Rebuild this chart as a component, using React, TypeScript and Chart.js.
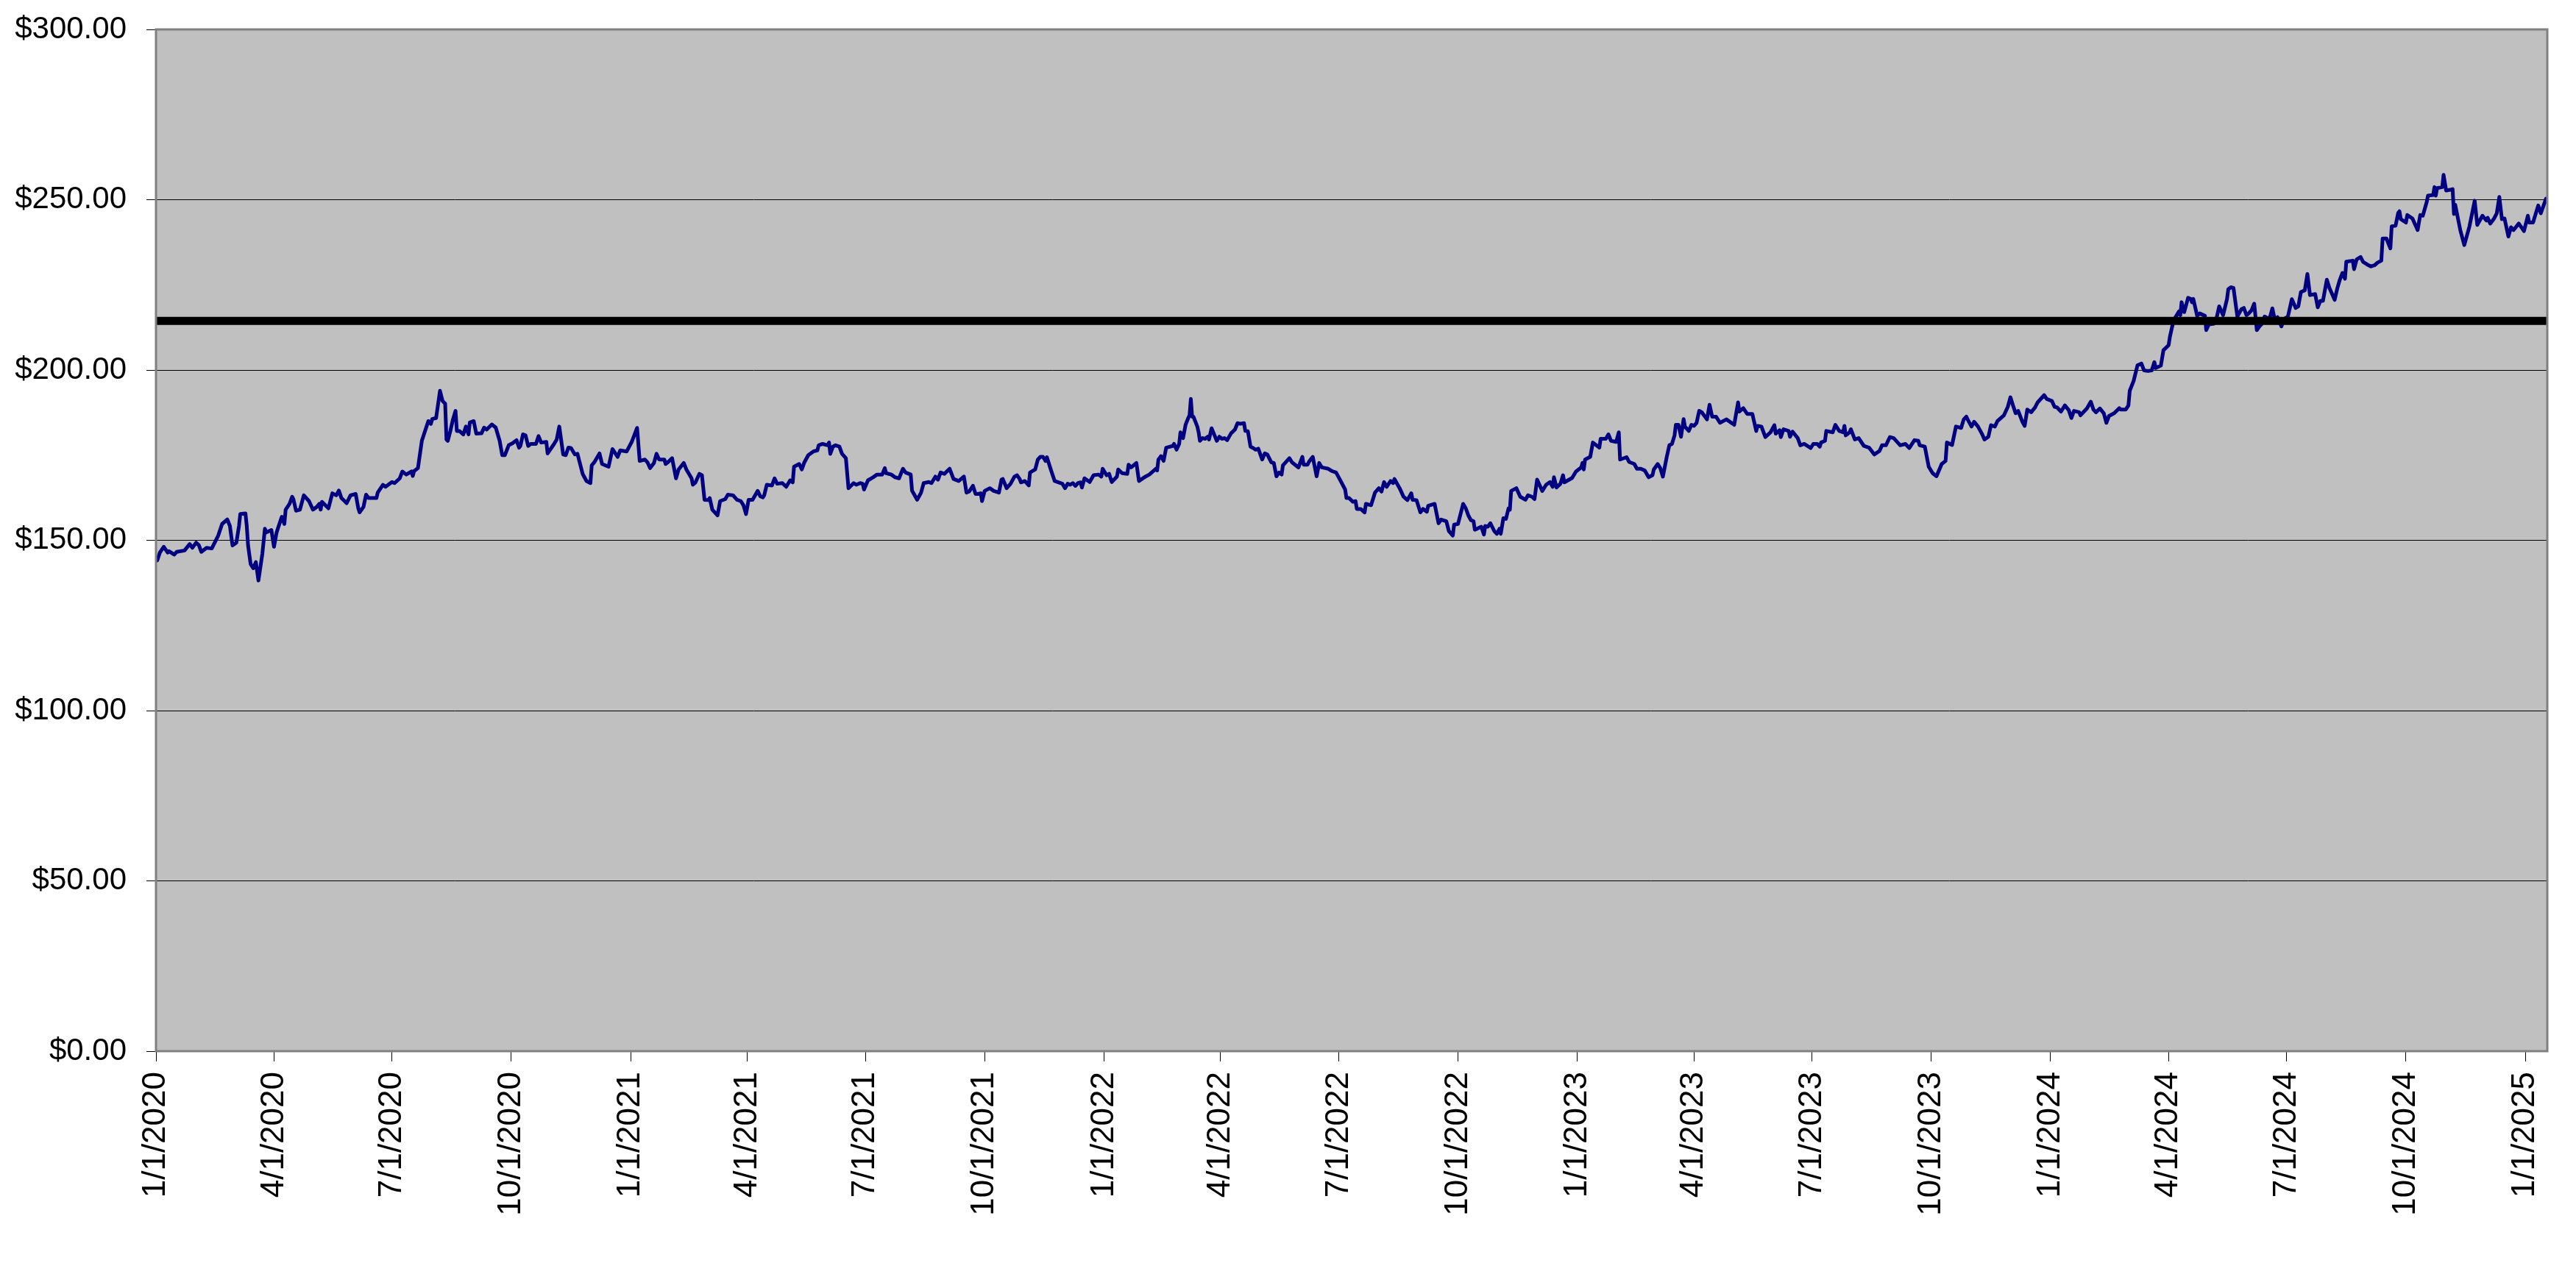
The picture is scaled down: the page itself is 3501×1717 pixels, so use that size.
import React, { useEffect, useRef } from 'react';
import Chart from 'chart.js/auto';

// trading days counted from 1/1/2020, and the closing price read for each of them
const closeDays = [
  1, 3, 6, 9, 10, 14, 16, 22, 26, 28,
  31, 33, 35, 39, 43, 48, 51, 55, 57, 59,
  62, 64, 65, 69, 70, 71, 73, 75, 77, 79,
  82, 84, 85, 89, 91, 93, 97, 99, 100, 103,
  105, 106, 108, 111, 114, 118, 121, 124, 126, 127,
  128, 133, 136, 139, 141, 143, 147, 150, 154, 156,
  157, 160, 162, 164, 170, 171, 175, 177, 182, 184,
  188, 190, 193, 197, 198, 199, 202, 205, 210, 212,
  213, 216, 219, 221, 223, 224, 225, 227, 229, 231,
  232, 234, 237, 239, 241, 242, 245, 247, 251, 253,
  255, 259, 262, 265, 267, 269, 272, 275, 278, 280,
  281, 283, 285, 287, 289, 293, 295, 297, 301, 302,
  307, 309, 311, 314, 316, 318, 320, 323, 325, 329,
  332, 335, 336, 338, 342, 344, 349, 352, 356, 358,
  363, 367, 371, 373, 377, 379, 381, 384, 386, 388,
  392, 393, 395, 398, 401, 403, 407, 409, 413, 414,
  416, 419, 421, 423, 426, 427, 429, 433, 435, 439,
  441, 445, 448, 451, 453, 455, 457, 460, 464, 466,
  468, 469, 471, 475, 477, 479, 483, 486, 489, 491,
  492, 496, 498, 500, 503, 507, 510, 511, 514, 518,
  519, 520, 522, 524, 527, 529, 532, 534, 538, 540,
  543, 545, 546, 549, 553, 556, 560, 562, 563, 567,
  570, 573, 576, 578, 582, 583, 587, 590, 592, 596,
  598, 601, 603, 605, 608, 609, 612, 615, 619, 623,
  625, 627, 630, 632, 634, 636, 637, 639, 643, 646,
  650, 652, 653, 656, 659, 662, 664, 666, 667, 670,
  673, 674, 678, 680, 682, 684, 686, 687, 690, 693,
  699, 701, 703, 705, 707, 709, 711, 713, 714, 716,
  720, 723, 727, 729, 730, 733, 735, 737, 741, 742,
  745, 749, 750, 752, 756, 758, 763, 766, 771, 772,
  773, 775, 777, 779, 784, 785, 787, 789, 790, 792,
  794, 796, 797, 798, 799, 800, 803, 804, 805, 807,
  809, 811, 812, 814, 818, 820, 822, 824, 826, 829,
  832, 834, 836, 839, 840, 842, 844, 846, 848, 850,
  853, 855, 857, 860, 862, 864, 866, 868, 869, 874,
  876, 881, 884, 885, 888, 889, 892, 895, 897, 899,
  904, 907, 910, 913, 917, 918, 920, 923, 925, 926,
  929, 932, 933, 937, 940, 943, 945, 947, 949, 952,
  954, 955, 959, 962, 965, 968, 969, 972, 975, 977,
  980, 981, 986, 989, 991, 995, 997, 1000, 1001, 1004,
  1008, 1010, 1012, 1014, 1016, 1017, 1022, 1024, 1025, 1027,
  1029, 1032, 1034, 1036, 1037, 1039, 1041, 1043, 1044, 1045,
  1049, 1052, 1056, 1058, 1061, 1063, 1065, 1069, 1072, 1075,
  1077, 1078, 1080, 1083, 1085, 1086, 1092, 1095, 1099, 1100,
  1101, 1102, 1106, 1108, 1113, 1114, 1118, 1120, 1122, 1126,
  1128, 1129, 1134, 1136, 1140, 1142, 1145, 1148, 1151, 1154,
  1155, 1158, 1160, 1162, 1165, 1167, 1169, 1171, 1172, 1174,
  1176, 1178, 1179, 1182, 1184, 1186, 1188, 1190, 1192, 1196,
  1198, 1200, 1203, 1206, 1211, 1217, 1220, 1221, 1224, 1227,
  1231, 1234, 1235, 1238, 1241, 1245, 1248, 1249, 1252, 1253,
  1255, 1259, 1260, 1262, 1266, 1268, 1271, 1276, 1278, 1281,
  1283, 1284, 1287, 1288, 1293, 1295, 1298, 1301, 1302, 1303,
  1306, 1307, 1310, 1313, 1317, 1321, 1325, 1329, 1331, 1334,
  1337, 1340, 1345, 1349, 1352, 1356, 1359, 1360, 1364, 1367,
  1370, 1373, 1377, 1380, 1381, 1385, 1388, 1392, 1394, 1396,
  1397, 1400, 1402, 1405, 1408, 1410, 1413, 1415, 1418, 1420,
  1425, 1428, 1430, 1432, 1434, 1436, 1439, 1441, 1443, 1446,
  1449, 1451, 1456, 1458, 1462, 1464, 1466, 1469, 1472, 1475,
  1477, 1479, 1483, 1484, 1489, 1492, 1494, 1496, 1499, 1502,
  1504, 1506, 1510, 1514, 1515, 1519, 1521, 1522, 1525, 1528,
  1531, 1533, 1536, 1539, 1541, 1542, 1546, 1548, 1552, 1553,
  1554, 1555, 1557, 1560, 1561, 1562, 1564, 1567, 1569, 1570,
  1571, 1574, 1576, 1580, 1581, 1583, 1587, 1589, 1591, 1594,
  1597, 1598, 1600, 1602, 1605, 1608, 1610, 1612, 1614, 1616,
  1618, 1620, 1622, 1624, 1626, 1628, 1630, 1632, 1634, 1636,
  1639, 1641, 1644, 1647, 1650, 1652, 1654, 1657, 1659, 1661,
  1665, 1667, 1669, 1671, 1674, 1676, 1680, 1682, 1684, 1686,
  1688, 1689, 1694, 1695, 1697, 1700, 1702, 1705, 1708, 1711,
  1713, 1716, 1717, 1720, 1723, 1724, 1727, 1729, 1730, 1731,
  1735, 1736, 1740, 1744, 1746, 1748, 1751, 1752, 1756, 1757,
  1758, 1759, 1763, 1764, 1766, 1769, 1771, 1772, 1773, 1777,
  1780, 1784, 1788, 1790, 1794, 1797, 1798, 1800, 1803, 1805,
  1807, 1809, 1811, 1814, 1816, 1818, 1822, 1826, 1829, 1830,
  1833, 1837, 1839, 1843, 1844,
];

const closePrices = [
  144.1, 146.4, 148.1, 146.4, 146.8, 145.8, 146.6, 147.0, 148.9, 147.8,
  149.3, 148.6, 146.6, 147.8, 147.6, 151.4, 154.8, 156.1, 154.2, 148.5,
  149.3, 154.2, 157.7, 157.9, 154.2, 148.5, 143.0, 141.8, 143.6, 138.2,
  146.0, 153.4, 152.3, 153.0, 148.1, 152.3, 156.9, 154.8, 159.0, 160.7,
  162.8, 162.0, 158.7, 159.0, 163.2, 161.5, 159.0, 159.8, 160.7, 159.0,
  161.3, 159.4, 163.8, 163.2, 164.6, 162.4, 160.9, 163.2, 163.6, 159.4,
  158.2, 159.8, 163.4, 162.4, 162.4, 164.0, 166.3, 165.7, 167.1, 166.8,
  168.2, 170.2, 169.3, 170.2, 168.9, 170.3, 171.2, 179.2, 185.0, 184.2,
  185.6, 185.9, 193.9, 190.9, 190.1, 179.6, 179.2, 182.1, 185.5, 188.0,
  182.1, 182.1, 181.1, 183.4, 181.1, 184.6, 185.0, 181.3, 181.4, 183.1,
  182.5, 184.0, 183.1, 179.2, 175.0, 175.0, 177.9, 178.5, 179.4, 177.2,
  177.7, 181.1, 180.8, 177.7, 178.3, 178.3, 180.6, 178.7, 178.9, 175.5,
  178.3, 179.6, 183.4, 175.2, 175.0, 177.2, 177.1, 175.2, 175.4, 169.5,
  167.4, 166.8, 172.0, 172.9, 175.5, 172.4, 171.6, 176.8, 174.5, 176.4,
  176.1, 179.0, 183.0, 173.3, 173.7, 172.9, 171.2, 172.7, 175.4, 173.7,
  173.7, 172.4, 173.0, 174.1, 168.2, 170.8, 172.7, 170.8, 168.2, 166.3,
  167.0, 169.5, 169.1, 161.9, 161.8, 162.4, 159.0, 157.3, 161.5, 162.1,
  163.4, 163.2, 161.9, 161.5, 160.3, 157.7, 161.9, 161.9, 164.5, 162.9,
  162.6, 163.2, 166.3, 166.1, 168.2, 166.6, 166.8, 165.7, 167.6, 167.0,
  171.6, 172.4, 170.8, 172.9, 175.0, 176.1, 176.4, 177.9, 178.3, 177.9,
  178.7, 175.4, 177.5, 177.9, 177.5, 175.4, 174.1, 165.3, 166.8, 166.3,
  166.8, 166.6, 164.9, 167.6, 168.5, 169.3, 169.3, 171.2, 169.7, 169.3,
  168.5, 168.2, 171.0, 169.9, 169.3, 164.6, 161.9, 164.0, 166.8, 167.1,
  166.8, 168.7, 167.8, 169.9, 169.5, 169.9, 171.0, 168.0, 167.4, 168.7,
  164.0, 164.3, 166.0, 163.6, 163.6, 163.8, 161.5, 164.5, 165.3, 164.5,
  164.0, 167.8, 168.0, 165.3, 166.6, 168.7, 169.1, 168.0, 167.0, 167.4,
  166.1, 169.9, 170.8, 173.7, 174.5, 174.5, 173.3, 174.4, 170.8, 167.4,
  166.6, 165.3, 166.6, 166.3, 166.8, 166.0, 166.8, 167.0, 165.5, 168.2,
  167.1, 169.1, 169.3, 168.7, 171.0, 169.1, 169.5, 167.1, 168.7, 170.8,
  169.7, 169.5, 172.2, 171.4, 172.7, 167.4, 168.7, 169.3, 171.0, 170.5,
  173.7, 174.7, 173.3, 177.2, 177.7, 178.3, 176.6, 178.3, 181.7, 180.0,
  184.0, 185.9, 186.7, 191.5, 186.3, 186.3, 183.4, 181.7, 179.2, 180.0,
  179.8, 180.4, 179.6, 182.9, 179.2, 180.4, 179.8, 180.0, 179.4, 181.4,
  182.5, 184.4, 184.2, 184.4, 182.1, 182.0, 177.5, 177.1, 176.6, 176.9,
  173.7, 175.5, 175.2, 172.9, 172.7, 168.8, 169.9, 169.3, 172.0, 174.1,
  172.9, 171.4, 174.5, 172.2, 172.2, 173.0, 174.5, 168.8, 172.7, 171.4,
  171.0, 170.3, 169.9, 167.8, 164.9, 162.4, 162.4, 161.3, 161.5, 159.2,
  159.2, 158.2, 160.7, 160.3, 164.0, 165.3, 164.3, 167.1, 165.7, 167.4,
  166.8, 168.0, 165.3, 162.8, 161.8, 163.8, 161.9, 161.8, 158.2, 159.2,
  158.4, 160.1, 160.7, 155.0, 156.1, 155.6, 152.7, 151.4, 154.6, 154.8,
  160.7, 159.4, 157.3, 155.9, 155.6, 153.1, 154.0, 151.7, 154.2, 154.0,
  155.0, 152.7, 151.9, 153.4, 151.9, 156.5, 156.3, 159.4, 159.0, 164.5,
  165.3, 162.8, 161.9, 163.2, 162.8, 162.1, 167.8, 164.5, 166.3, 167.1,
  165.7, 168.5, 165.5, 166.6, 169.1, 167.0, 168.3, 170.2, 171.4, 172.7,
  170.8, 173.7, 174.5, 178.7, 177.2, 179.8, 179.8, 181.1, 179.2, 178.9,
  181.7, 173.7, 174.4, 173.0, 172.4, 171.0, 171.0, 170.5, 168.5, 169.1,
  170.8, 172.4, 171.2, 168.7, 174.5, 177.9, 178.3, 180.8, 183.9, 183.9,
  180.4, 185.6, 183.4, 182.1, 183.9, 183.6, 184.5, 188.0, 187.6, 185.5,
  189.8, 186.3, 186.3, 184.5, 185.5, 183.9, 190.5, 187.8, 188.8, 187.1,
  187.1, 182.1, 183.6, 183.4, 180.3, 181.7, 183.8, 181.3, 182.3, 180.3,
  182.6, 182.1, 180.4, 181.9, 180.0, 177.9, 178.3, 177.1, 178.3, 178.3,
  177.5, 178.7, 179.2, 182.1, 181.7, 183.9, 182.1, 181.7, 183.6, 180.8,
  181.7, 182.6, 179.6, 180.0, 177.7, 177.2, 175.2, 176.2, 177.9, 177.9,
  180.3, 180.0, 177.9, 178.3, 177.1, 179.4, 179.2, 177.9, 177.5, 171.6,
  169.7, 168.8, 172.4, 173.3, 178.7, 178.0, 183.4, 183.0, 185.5, 186.3,
  185.5, 183.4, 184.8, 183.4, 181.3, 179.6, 180.4, 183.8, 183.4, 185.0,
  186.7, 189.2, 192.0, 189.6, 187.3, 188.0, 185.0, 183.6, 188.4, 187.6,
  189.0, 190.5, 192.6, 191.5, 190.9, 189.2, 189.0, 187.8, 189.6, 188.2,
  185.9, 188.0, 187.6, 186.7, 188.7, 190.7, 188.4, 187.6, 188.7, 187.3,
  184.5, 186.5, 187.3, 188.8, 188.4, 188.4, 189.6, 193.9, 196.8, 201.4,
  201.9, 199.9, 199.7, 199.9, 202.3, 200.6, 201.3, 205.8, 207.3, 209.8,
  211.5, 213.2, 215.3, 217.2, 216.1, 219.9, 217.0, 221.2, 220.9, 219.9,
  220.9, 215.9, 216.6, 215.9, 211.7, 213.4, 213.6, 215.3, 218.7, 216.1,
  220.8, 223.7, 224.3, 224.1, 215.7, 217.8, 218.2, 216.1, 216.7, 217.6,
  219.5, 211.7, 212.8, 213.6, 215.7, 215.3, 215.3, 218.1, 214.5, 215.5,
  212.8, 215.0, 215.7, 220.8, 218.2, 218.7, 222.9, 223.4, 228.2, 222.0,
  222.3, 218.4, 220.3, 220.3, 226.5, 224.1, 220.6, 223.9, 226.5, 228.5,
  226.8, 231.8, 232.1, 229.6, 232.5, 233.2, 231.7, 231.0, 230.4, 230.8,
  231.5, 232.1, 238.6, 238.6, 235.7, 242.2, 242.4, 246.1, 246.6, 244.3,
  243.3, 245.5, 244.5, 241.1, 245.5, 245.3, 249.3, 251.2, 251.4, 253.7,
  251.2, 253.4, 253.7, 257.3, 252.7, 252.9, 253.1, 245.8, 248.5, 240.9,
  236.7, 242.2, 249.7, 242.6, 245.3, 243.9, 244.7, 243.0, 244.5, 246.0,
  250.8, 244.3, 244.5, 239.2, 241.9, 241.1, 243.0, 240.8, 245.3, 243.3,
  243.3, 248.3, 246.0, 250.3, 249.3,
];

// the flat black reference level across the whole chart
const referencePrice = 214.4;
const lastAxisDay = 1844;

const dateTickLabels = [
  '1/1/2020', '4/1/2020', '7/1/2020', '10/1/2020',
  '1/1/2021', '4/1/2021', '7/1/2021', '10/1/2021',
  '1/1/2022', '4/1/2022', '7/1/2022', '10/1/2022',
  '1/1/2023', '4/1/2023', '7/1/2023', '10/1/2023',
  '1/1/2024', '4/1/2024', '7/1/2024', '10/1/2024',
  '1/1/2025',
];
const priceTicks = [0, 50, 100, 150, 200, 250, 300];

const dayOf = (label: string) => {
  const [m, d, y] = label.split('/').map(Number);
  return Math.round((Date.UTC(y, m - 1, d) - Date.UTC(2020, 0, 1)) / 86400000);
};
const dateTickDays = dateTickLabels.map(dayOf);

const FONT = "'Liberation Sans', Arial, sans-serif";

// grey plot area with a grey frame, the old spreadsheet look
const plotAreaFrame = {
  id: 'plotAreaFrame',
  beforeDraw(chart: Chart) {
    const { ctx, chartArea: a } = chart;
    ctx.save();
    ctx.fillStyle = '#c0c0c0';
    ctx.fillRect(a.left, a.top, a.right - a.left, a.bottom - a.top);
    ctx.restore();
  },
  afterDatasetsDraw(chart: Chart) {
    const { ctx, chartArea: a } = chart;
    ctx.save();
    ctx.strokeStyle = '#808080';
    ctx.lineWidth = 3;
    ctx.strokeRect(a.left, a.top, a.right - a.left, a.bottom - a.top);
    ctx.restore();
  },
};

const PriceChart: React.FC = () => {
  const canvasRef = useRef<HTMLCanvasElement>(null);
  const chartRef = useRef<Chart | null>(null);

  useEffect(() => {
    if (!canvasRef.current) return;
    if (chartRef.current) chartRef.current.destroy();

    const points = closeDays.map((day, i) => ({ x: day, y: closePrices[i] }));

    chartRef.current = new Chart(canvasRef.current, {
      type: 'line',
      data: {
        datasets: [
          {
            label: 'Reference',
            data: [
              { x: 0, y: referencePrice },
              { x: lastAxisDay, y: referencePrice },
            ],
            borderColor: '#000000',
            borderWidth: 11,
            pointRadius: 0,
            order: 0,
          },
          {
            label: 'Close',
            data: points,
            borderColor: '#000080',
            borderWidth: 5,
            borderJoinStyle: 'round',
            borderCapStyle: 'round',
            pointRadius: 0,
            tension: 0,
            order: 1,
          },
        ],
      },
      options: {
        animation: false,
        responsive: true,
        maintainAspectRatio: false,
        layout: { padding: { top: 32, right: 31, left: 0, bottom: 0 } },
        plugins: {
          legend: { display: false },
          tooltip: { enabled: false },
        },
        scales: {
          x: {
            type: 'linear',
            min: 0,
            max: lastAxisDay,
            afterBuildTicks: (scale: any) => {
              scale.ticks = dateTickDays.map((v) => ({ value: v }));
            },
            afterFit: (scale: any) => {
              scale.height = 280;
              scale.paddingLeft = 0;
              scale.paddingRight = 0;
            },
            ticks: {
              autoSkip: false,
              minRotation: 90,
              maxRotation: 90,
              padding: 14,
              color: '#000000',
              font: { family: FONT, size: 44 },
              callback: (_v: any, i: number) => dateTickLabels[i],
            },
            grid: { drawOnChartArea: false, color: '#000000', tickLength: 14 },
            border: { display: false },
          },
          y: {
            min: 0,
            max: 300,
            afterBuildTicks: (scale: any) => {
              scale.ticks = priceTicks.map((v) => ({ value: v }));
            },
            afterFit: (scale: any) => {
              scale.width = 204;
              scale.paddingTop = 0;
              scale.paddingBottom = 0;
            },
            ticks: {
              padding: 27,
              color: '#000000',
              font: { family: FONT, size: 42 },
              callback: (v: any) => '$' + Number(v).toFixed(2),
            },
            grid: { color: '#000000', lineWidth: 1, tickLength: 13 },
            border: { display: false },
          },
        },
      },
      plugins: [plotAreaFrame],
    });

    return () => {
      if (chartRef.current) {
        chartRef.current.destroy();
        chartRef.current = null;
      }
    };
  }, []);

  return (
    <div style={{ width: 3485, height: 1701, position: 'relative' }}>
      <canvas ref={canvasRef}></canvas>
    </div>
  );
};

export default function App() {
  return <PriceChart />;
}
